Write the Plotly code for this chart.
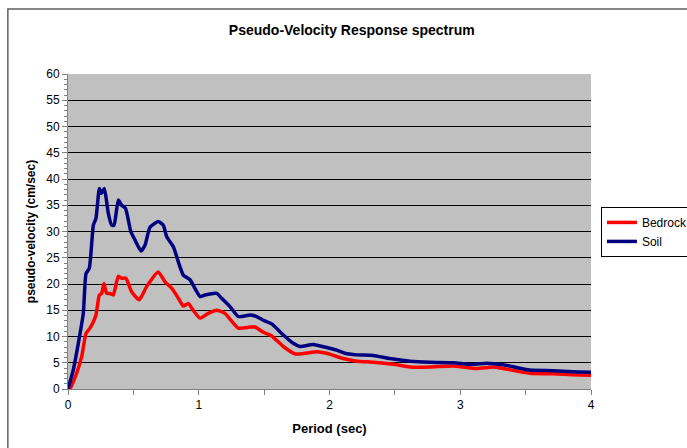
import plotly.graph_objects as go

# Soil (blue) curve
soil_period = [0.0, 0.04, 0.079, 0.117, 0.138, 0.163, 0.194, 0.214, 0.24, 0.257, 0.278, 0.308,
               0.334, 0.352, 0.385, 0.41, 0.44, 0.48, 0.512, 0.558, 0.589, 0.627, 0.69, 0.729,
               0.755, 0.806, 0.844, 0.882, 0.933, 1.01, 1.048, 1.137, 1.175, 1.239, 1.303, 1.392,
               1.443, 1.494, 1.558, 1.647, 1.723, 1.774, 1.876, 1.978, 2.055, 2.118, 2.208, 2.335,
               2.46, 2.616, 2.769, 2.947, 3.1, 3.2, 3.33, 3.53, 3.71, 3.86, 4.0]
soil_pv = [0.0, 3.6, 8.7, 14.4, 22.0, 23.0, 31.2, 32.5, 38.2, 37.3, 38.2, 33.5,
           31.2, 31.2, 36.0, 35.0, 34.4, 30.0, 28.4, 26.3, 27.4, 30.8, 31.9, 31.2,
           29.0, 27.1, 24.2, 21.7, 20.8, 17.6, 17.9, 18.2, 17.3, 15.7, 13.8, 14.1,
           13.8, 13.1, 12.4, 10.3, 8.7, 8.1, 8.5, 7.9, 7.4, 6.8, 6.5, 6.4,
           5.8, 5.3, 5.1, 5.0, 4.7, 4.9, 4.6, 3.6, 3.5, 3.3, 3.2]

# Bedrock (red) curve
bed_period = [0.0, 0.015, 0.066, 0.105, 0.138, 0.168, 0.194, 0.214, 0.24, 0.257, 0.275, 0.296,
              0.321, 0.346, 0.385, 0.41, 0.443, 0.487, 0.545, 0.601, 0.69, 0.742, 0.793, 0.844,
              0.882, 0.92, 0.958, 1.01, 1.073, 1.137, 1.2, 1.303, 1.392, 1.43, 1.494, 1.558,
              1.647, 1.736, 1.787, 1.902, 1.978, 2.105, 2.208, 2.335, 2.488, 2.616, 2.769, 2.947,
              3.125, 3.25, 3.33, 3.53, 3.71, 3.86, 4.0]
bed_pv = [0.0, 0.1, 3.0, 6.2, 10.6, 11.6, 12.8, 14.1, 17.9, 18.2, 20.1, 18.2,
          18.2, 17.9, 21.5, 21.1, 21.1, 18.5, 17.0, 19.5, 22.3, 20.4, 19.2, 17.3,
          15.8, 16.3, 15.0, 13.5, 14.4, 15.0, 14.4, 11.6, 11.8, 11.8, 10.8, 10.1,
          8.1, 6.7, 6.7, 7.1, 6.8, 5.8, 5.3, 5.1, 4.7, 4.2, 4.2, 4.4,
          3.9, 4.2, 3.9, 3.0, 2.9, 2.7, 2.6]

y_ticks = [0, 5, 10, 15, 20, 25, 30, 35, 40, 45, 50, 55, 60]
x_ticks = [0, 1, 2, 3, 4]

FONT = "Liberation Sans, Arial, sans-serif"

fig = go.Figure()
fig.add_trace(go.Scatter(x=bed_period, y=bed_pv, mode="lines", name="Bedrock",
                         line=dict(color="#FF0000", width=3.5, shape="spline", smoothing=0.5)))
fig.add_trace(go.Scatter(x=soil_period, y=soil_pv, mode="lines", name="Soil",
                         line=dict(color="#000080", width=3.5, shape="spline", smoothing=0.5)))

fig.update_layout(
    width=687, height=448,
    margin=dict(l=68, r=96, t=74, b=59, autoexpand=False),
    paper_bgcolor="white",
    plot_bgcolor="#C0C0C0",
    font=dict(family=FONT, size=12, color="black"),
    title=dict(text="<b>Pseudo-Velocity Response spectrum</b>", x=0.512, xanchor="center",
               y=0.933, yanchor="middle", font=dict(size=14, family=FONT, color="black")),
    showlegend=True,
    legend=dict(x=1.019, y=0.578, xanchor="left", yanchor="top",
                bgcolor="white", bordercolor="black", borderwidth=1,
                font=dict(size=12, family=FONT, color="black"),
                itemwidth=30, tracegroupgap=0),
    xaxis=dict(range=[0, 4], tickvals=x_ticks, ticks="outside", ticklen=5, tickcolor="#808080",
               showgrid=False, zeroline=False, showline=True, linecolor="#808080", linewidth=1,
               minor=dict(dtick=0.5, ticks="outside", ticklen=5, tickcolor="#808080", showgrid=False),
               title=dict(text="<b>Period (sec)</b>", font=dict(size=13, family=FONT), standoff=12),
               tickfont=dict(size=12, family=FONT)),
    yaxis=dict(range=[0, 60], tickvals=y_ticks, ticks="outside", ticklen=5, tickcolor="#808080",
               showgrid=True, gridcolor="black", gridwidth=1, zeroline=False,
               showline=True, linecolor="#808080", linewidth=1,
               minor=dict(dtick=1, ticks="outside", ticklen=3, tickcolor="#808080", showgrid=False),
               title=dict(text="<b>pseudo-velocity (cm/sec)</b>", font=dict(size=12, family=FONT), standoff=8),
               tickfont=dict(size=12, family=FONT)),
    shapes=[dict(type="rect", xref="paper", yref="paper",
                 x0=-0.115, x1=1.5, y0=-0.5, y1=1.206,
                 line=dict(color="#606060", width=1.5), fillcolor="rgba(0,0,0,0)", layer="below")],
)

fig.write_html("out.html", config={"displayModeBar": False},
               post_script="document.body.style.margin='0';document.body.style.overflow='hidden';")
